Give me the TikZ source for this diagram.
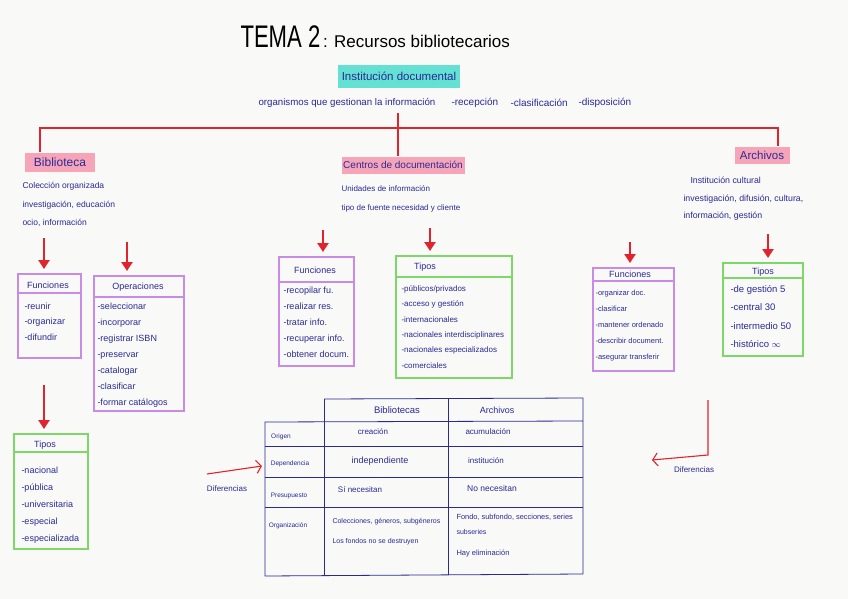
\documentclass[tikz,border=0pt]{standalone}
\usepackage{fontspec}
\setmainfont{Liberation Sans}
\usetikzlibrary{%
  arrows.meta,%
  positioning% wg. " of "
}

\definecolor{inkc}{RGB}{42,42,150}
\definecolor{redm}{RGB}{225,35,45}
\definecolor{purp}{RGB}{200,140,230}
\definecolor{grn}{RGB}{125,215,105}
\definecolor{pinkhl}{RGB}{246,165,185}
\definecolor{cyanhl}{RGB}{100,225,210}
\definecolor{paper}{RGB}{249,249,247}

\begin{document}
\begin{tikzpicture}[
  x=1pt, y=-1pt,
  font=\fontsize{9}{10}\selectfont,
  >={Triangle[width=11pt,length=9pt]},
  line width=1pt,
  ink/.style={text=inkc, inner sep=0pt},
  desc/.style={ink, anchor=north west, align=left, font=\fontsize{8.5}{18.5}\selectfont},
  list/.style={ink, anchor=north west, align=left, font=\fontsize{9}{#1}\selectfont},
  hl/.style={fill=#1, text=inkc, inner sep=0pt, font=\fontsize{10}{10}\selectfont},
  purpbox/.style={draw=purp, line width=2.2pt, anchor=north west, inner sep=0pt},
  grnbox/.style={draw=grn, line width=2.2pt, anchor=north west, inner sep=0pt},
  tree/.style={draw=redm, line width=2.4pt},
  redarr/.style={draw=redm, fill=redm, line width=2.4pt, ->, shorten >=4pt},
  difarr/.style={draw=redm, line width=1.1pt, -{Straight Barb[length=5pt,width=13pt]}},
  tab/.style={draw=inkc, line width=0.8pt},
  cell/.style={ink, font=\fontsize{8}{9}\selectfont},
  rowlab/.style={ink, font=\fontsize{6.5}{8}\selectfont},
  orgtxt/.style={ink, anchor=west, font=\fontsize{7}{8}\selectfont}
]
\fill[paper] (0,0) rectangle (848,599);
\useasboundingbox (0,0) rectangle (848,599);

% titulo
\node[anchor=base west, inner sep=0pt] (title) at (240,48)
  {\scalebox{0.85}[1.2]{\fontsize{26}{26}\selectfont TEMA 2}{\fontsize{17}{17}\selectfont\,: Recursos bibliotecarios}};

\node[hl=cyanhl, minimum width=122, minimum height=23, font=\fontsize{11.5}{12}\selectfont] (inst) at (399,76.5) {Institución documental};
\node[ink, anchor=west, font=\fontsize{9.7}{10}\selectfont] (org) at (258,103) {organismos que gestionan la información};
\node[ink, anchor=west, font=\fontsize{10}{10}\selectfont] (rec) at (451,103) {-recepción};
\node[ink, anchor=west, font=\fontsize{10}{10}\selectfont] (cla) at (510,103) {-clasificación};
\node[ink, anchor=west, font=\fontsize{10}{10}\selectfont] (dis) at (578,103) {-disposición};

% ramas
\node[hl=pinkhl, minimum width=70, minimum height=19, font=\fontsize{12}{12}\selectfont] (bib) at (60,162) {Biblioteca};
\node[hl=pinkhl, minimum width=123, minimum height=17] (cen) at (403,165) {Centros de documentación};
\node[hl=pinkhl, minimum width=55, minimum height=17, font=\fontsize{11.5}{12}\selectfont] (arc) at (762,155) {Archivos};

\coordinate (top) at (398,113);
\coordinate (hl) at (40,128);
\coordinate (hr) at (778,128);
\draw[tree] (hl |- bib.north) -- (hl) -- (hr) -- (hr |- arc.north);
\draw[tree] (top) -- (top |- cen.north);

\node[desc] (bibd) at (22,182) {Colección organizada\\investigación, educación\\ocio, información};
\node[desc, font=\fontsize{8}{19}\selectfont] (cend) at (341,185) {Unidades de información\\tipo de fuente necesidad y cliente};
\node[desc, font=\fontsize{8.8}{17.5}\selectfont] (arcd) at (683,177) {\hspace{7pt}Institución cultural\\investigación, difusión, cultura,\\información, gestión};

% Biblioteca
\node[purpbox, minimum width=63, minimum height=84] (bfun) at (17,273) {};
\draw[draw=purp, line width=2.2pt] (bfun.west |- 0,293) -- (bfun.east |- 0,293);
\node[ink] (bfunh) at (48,285) {Funciones};
\node[list=15.5] (bfunl) at (24,302) {-reunir\\-organizar\\-difundir};

\node[purpbox, minimum width=90, minimum height=135] (bope) at (93,275) {};
\draw[draw=purp, line width=2.2pt] (bope.west |- 0,297) -- (bope.east |- 0,297);
\node[ink] (bopeh) at (138,287) {Operaciones};
\node[list=16] (bopel) at (97,302) {-seleccionar\\-incorporar\\-registrar ISBN\\-preservar\\-catalogar\\-clasificar\\-formar catálogos};

\node[grnbox, minimum width=74, minimum height=115] (btip) at (13,433) {};
\draw[draw=grn, line width=2.2pt] (btip.west |- 0,452) -- (btip.east |- 0,452);
\node[ink] (btiph) at (45,445) {Tipos};
\node[list=17] (btipl) at (21,466) {-nacional\\-pública\\-universitaria\\-especial\\-especializada};

% Centros de documentacion
\node[purpbox, minimum width=75, minimum height=109] (cfun) at (278,256) {};
\draw[draw=purp, line width=2.2pt] (cfun.west |- 0,282) -- (cfun.east |- 0,282);
\node[ink] (cfunh) at (315,270) {Funciones};
\node[list=16] (cfunl) at (283,286) {-recopilar fu.\\-realizar res.\\-tratar info.\\-recuperar info.\\-obtener docum.};

\node[grnbox, minimum width=116, minimum height=122] (ctip) at (395,255) {};
\draw[draw=grn, line width=2.2pt] (ctip.west |- 0,277) -- (ctip.east |- 0,277);
\node[ink] (ctiph) at (425,267) {Tipos};
\node[list=15.4, font=\fontsize{8}{15.4}\selectfont] (ctipl) at (401,285) {-públicos/privados\\-acceso y gestión\\-internacionales\\-nacionales interdisciplinares\\-nacionales especializados\\-comerciales};

% Archivos
\node[purpbox, minimum width=81, minimum height=103] (afun) at (592,267) {};
\draw[draw=purp, line width=2.2pt] (afun.west |- 0,281) -- (afun.east |- 0,281);
\node[ink] (afunh) at (630,274) {Funciones};
\node[list=16, font=\fontsize{7.5}{16}\selectfont] (afunl) at (595,290) {-organizar doc.\\-clasificar\\-mantener ordenado\\-describir document.\\-asegurar transferir};

\node[grnbox, minimum width=80, minimum height=93] (atip) at (722,262) {};
\draw[draw=grn, line width=2.2pt] (atip.west |- 0,278) -- (atip.east |- 0,278);
\node[ink] (atiph) at (763,272) {Tipos};
\node[list=18.3, font=\fontsize{9.5}{18.3}\selectfont] (atipl) at (730,285) {-de gestión 5\\-central 30\\-intermedio 50\\-histórico $\infty$};

% flechas
\coordinate (a1) at (44,238);
\coordinate (a2) at (127,242);
\coordinate (a3) at (44,385);
\coordinate (a4) at (323,230);
\coordinate (a5) at (430,228);
\coordinate (a6) at (630,242);
\coordinate (a7) at (768,234);
\draw[redarr] (a1) -- (a1 |- bfun.north);
\draw[redarr] (a2) -- (a2 |- bope.north);
\draw[redarr] (a3) -- (a3 |- btip.north);
\draw[redarr] (a4) -- (a4 |- cfun.north);
\draw[redarr] (a5) -- (a5 |- ctip.north);
\draw[redarr] (a6) -- (a6 |- afun.north);
\draw[redarr] (a7) -- (a7 |- atip.north);

% tabla
\draw[tab] (324,399) -- (583,398) -- (583,574) -- (265,576) -- (265,422) -- (583,421);
\draw[tab] (324,399) -- (324,576);
\draw[tab] (448,399) -- (448,575);
\foreach \y in {446,477,507} {
  \draw[tab] (265,\y) -- (583,\y);
}
\node[cell, font=\fontsize{9.5}{10}\selectfont] (hb) at (397,410) {Bibliotecas};
\node[cell, font=\fontsize{9}{10}\selectfont] (ha) at (497,410) {Archivos};
\node[rowlab] (ori) at (281,437) {Origen};
\node[cell] (ori1) at (373,432) {creación};
\node[cell] (ori2) at (488,432) {acumulación};
\node[rowlab] (dep) at (290,464) {Dependencia};
\node[cell, font=\fontsize{9}{10}\selectfont] (dep1) at (380,461) {independiente};
\node[cell] (dep2) at (486,461) {institución};
\node[rowlab] (pre) at (289,496) {Presupuesto};
\node[cell] (pre1) at (360,490) {Sí necesitan};
\node[cell, font=\fontsize{8.5}{9}\selectfont] (pre2) at (492,488) {No necesitan};
\node[rowlab] (org0) at (288,526) {Organización};
\node[orgtxt] (org1) at (332,522) {Colecciones, géneros, subgéneros};
\node[orgtxt] (org1b) at (332,542) {Los fondos no se destruyen};
\node[orgtxt, font=\fontsize{7.4}{8}\selectfont] (org2) at (456,517) {Fondo, subfondo, secciones, series};
\node[orgtxt] (org2b) at (456,532) {subseries};
\node[orgtxt, font=\fontsize{7.5}{8}\selectfont] (org2c) at (456,554) {Hay eliminación};

% diferencias
\node[cell] (difl) at (227,489) {Diferencias};
\coordinate (dl) at (207,474);
\coordinate (dr) at (262,466);
\draw[difarr] (dl) -- (dr);

\node[cell] (difr) at (694,470) {Diferencias};
\coordinate (r1) at (708,400);
\coordinate (r2) at (708,455);
\coordinate (r3) at (652,460);
\draw[difarr] (r1) -- (r2) -- (r3);

\end{tikzpicture}
\end{document}
